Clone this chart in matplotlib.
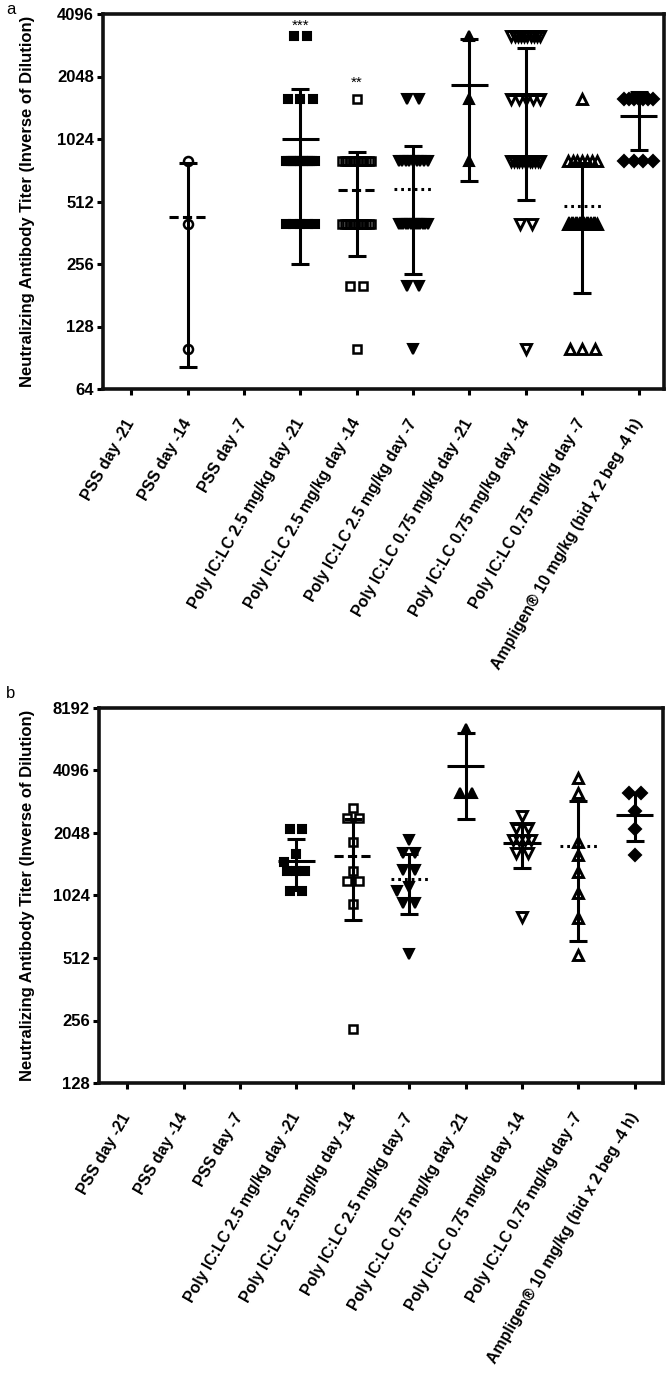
import numpy as np
import matplotlib
matplotlib.use("Agg")
import matplotlib.pyplot as plt
from matplotlib.ticker import NullLocator

plt.rcParams['font.family'] = ['Liberation Sans', 'DejaVu Sans']

# ---------------- data ----------------
categories = ["PSS day -21", "PSS day -14", "PSS day -7",
              "Poly IC:LC 2.5 mg/kg day -21", "Poly IC:LC 2.5 mg/kg day -14",
              "Poly IC:LC 2.5 mg/kg day -7", "Poly IC:LC 0.75 mg/kg day -21",
              "Poly IC:LC 0.75 mg/kg day -14", "Poly IC:LC 0.75 mg/kg day -7",
              "Ampligen\u00ae 10 mg/kg (bid x 2 beg -4 h)"]

# panel a: titer levels and number of animals at each level
a_levels = [[], [800, 400, 100], [], [3200, 1600, 800, 400],
            [1600, 800, 400, 200, 100], [1600, 800, 400, 200, 100],
            [3200, 1600, 800], [3200, 1600, 800, 400, 100],
            [1600, 800, 400, 100], [1600, 800]]
a_counts = [[], [1, 1, 1], [], [2, 3, 13, 5],
            [1, 12, 12, 2, 1], [2, 9, 13, 2, 1],
            [1, 1, 1], [10, 5, 12, 2, 1],
            [1, 7, 22, 3], [7, 4]]
a_mean = [np.nan, 433, np.nan, 1020, 584, 588, 1867, 1668, 487, 1318]
a_sd = [np.nan, 351, np.nan, 764, 303, 360, 1222, 1148, 302, 412]

# panel b: individual titers
b_points = [[], [], [],
            [2150, 2150, 1620, 1490, 1345, 1345, 1345, 1075, 1075],
            [2706, 2418, 2418, 1860, 1345, 1200, 1200, 930, 232],
            [1900, 1640, 1640, 1360, 1360, 1130, 1075, 941, 941, 535],
            [6480, 3190, 3190],
            [2470, 2170, 2170, 1900, 1900, 1900, 1900, 1640, 1640, 810],
            [3760, 3190, 1860, 1600, 1330, 1050, 800, 530],
            [3190, 3190, 2610, 2150, 1600]]
b_mean = [np.nan, np.nan, np.nan, 1500, 1585, 1225, 4287, 1830, 1770, 2510]
b_sd = [np.nan, np.nan, np.nan, 417, 805, 392, 1900, 440, 1150, 640]

a_yticks = [64, 128, 256, 512, 1024, 2048, 4096]
b_yticks = [128, 256, 512, 1024, 2048, 4096, 8192]

# ---------------- styles ----------------
markers = [None, 'o', None, 's', 's', 'v', '^', 'v', '^', 'D']
filled = [False, False, False, True, False, True, True, False, False, True]
msizes = [6, 6.5, 6, 5.8, 5.8, 6.8, 6.8, 6.8, 6.8, 6.2]
edge_w = [1.5, 1.8, 1.5, 1.5, 1.8, 1.5, 1.5, 2.1, 2.1, 1.5]
mean_ls = [None, (0, (3, 1.4)), None, 'solid', (0, (3, 1.4)), (0, (0.9, 1.3)),
           'solid', 'solid', (0, (0.9, 1.3)), 'solid']

FIG_W, FIG_H = 669, 1373
PX_PER_UNIT = 56.4
PX_PER_OCT = 62.5
LW = 2.2


def swarm(values, spacing, max_span, thresh):
    vals = np.asarray(values, float)
    offs = np.zeros(len(vals))
    placed = []
    shifts = [0]
    for i in range(1, 8):
        shifts += [-6 * i, 6 * i]
    for lev in sorted(set(vals.tolist()), reverse=True):
        idx = np.where(vals == lev)[0]
        k = len(idx)
        sp = spacing if k < 2 else min(spacing, max_span / (k - 1))
        base = (np.arange(k) - (k - 1) / 2) * sp
        ypx = np.log2(lev) * PX_PER_OCT
        cand = base
        for c in shifts:
            cand = base + c
            ok = True
            for x in cand:
                for (py, px) in placed:
                    if abs(ypx - py) < thresh and abs(x - px) < thresh:
                        ok = False
                        break
                if not ok:
                    break
            if ok:
                break
        placed += [(ypx, x) for x in cand]
        offs[idx] = cand / PX_PER_UNIT
    return offs


def style_axes(ax, yticks, ylim, xlim, label_x):
    ax.set_yscale('log', base=2)
    ax.set_ylim(*ylim)
    ax.set_xlim(*xlim)
    ax.yaxis.set_minor_locator(NullLocator())
    ax.set_yticks(yticks)
    ax.set_yticklabels([str(v) for v in yticks], fontweight='bold', fontsize=12)
    ax.set_xticks(np.arange(1, len(categories) + 1))
    ax.set_xticklabels(categories, rotation=60, ha='right', va='center',
                       rotation_mode='anchor', fontweight='bold', fontsize=11.4)
    ax.tick_params(axis='both', which='major', direction='out', length=4.5,
                   width=LW, color='black')
    ax.tick_params(axis='x', pad=18)
    ax.tick_params(axis='y', pad=2)
    for s in ax.spines.values():
        s.set_linewidth(2.6)
        s.set_color('#111111')
    ax.set_ylabel('Neutralizing Antibody Titer (Inverse of Dilution)',
                  fontweight='bold', fontsize=12)
    ax.yaxis.set_label_coords(label_x, 0.5)


def draw_group(ax, i, vals, offs, mean, sd):
    x = i + 1
    if len(vals) > 0:
        fc = 'black' if filled[i] else 'none'
        ax.plot(x + offs, vals, ls='none', marker=markers[i], ms=msizes[i],
                mfc=fc, mec='black', mew=edge_w[i], zorder=2)
    if not np.isnan(mean):
        ax.errorbar([x], [mean], yerr=[[sd], [sd]], fmt='none', ecolor='black',
                    elinewidth=LW, capsize=6.5, capthick=LW, zorder=3)
        ax.hlines(mean, x - 0.33, x + 0.33, colors='black', lw=LW,
                  linestyles=mean_ls[i], zorder=4)


fig = plt.figure(figsize=(FIG_W / 100, FIG_H / 100), dpi=100)

# ---- panel a ----
axA = fig.add_axes([103 / FIG_W, 1 - 389 / FIG_H, 561 / FIG_W, 375 / FIG_H])
for i in range(len(categories)):
    vals = []
    for lev, n in zip(a_levels[i], a_counts[i]):
        vals += [lev] * n
    offs = swarm(vals, 12.7, 29, 9) if vals else np.array([])
    draw_group(axA, i, np.array(vals, float), offs, a_mean[i], a_sd[i])
style_axes(axA, a_yticks, (64, 4096), (0.5, 10.45), -0.121)
axA.text(4, 3430, '***', ha='center', va='baseline', fontsize=11)
axA.text(5, 1830, '**', ha='center', va='baseline', fontsize=11)

# ---- panel b ----
axB = fig.add_axes([99 / FIG_W, 1 - 1083 / FIG_H, 564 / FIG_W, 375 / FIG_H])
for i in range(len(categories)):
    vals = b_points[i]
    offs = swarm(vals, 12, 18, 9) if vals else np.array([])
    draw_group(axB, i, np.array(vals, float), offs, b_mean[i], b_sd[i])
style_axes(axB, b_yticks, (128, 8192), (0.5, 10.5), -0.114)

fig.text(6 / FIG_W, 1 - 9 / FIG_H, 'a', fontsize=12, va='center', ha='left')
fig.text(6 / FIG_W, 1 - 694 / FIG_H, 'b', fontsize=12, va='center', ha='left')

fig.savefig('out.png', dpi=100)
